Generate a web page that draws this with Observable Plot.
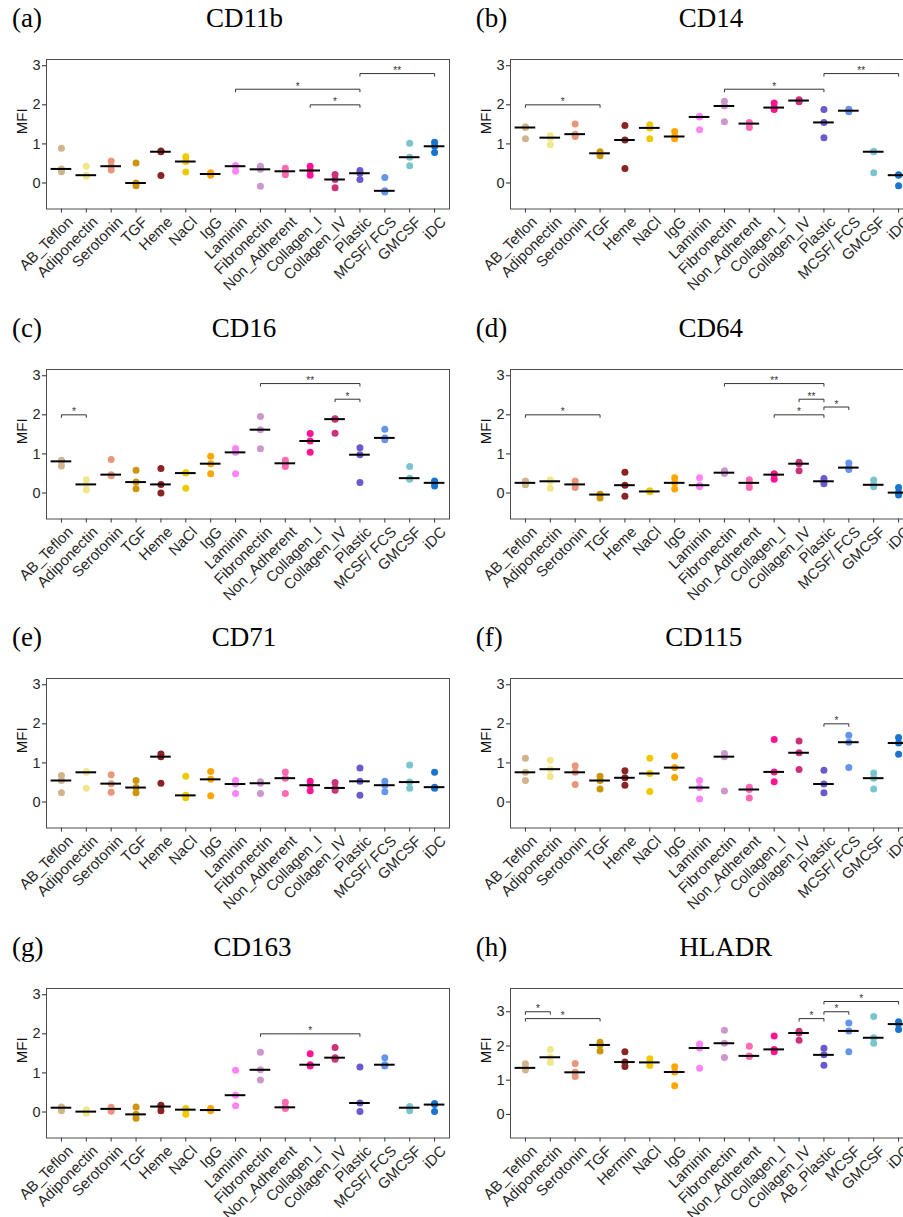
<!DOCTYPE html>
<html><head><meta charset="utf-8">
<script src="https://cdn.jsdelivr.net/npm/d3@7"></script>
<script src="https://cdn.jsdelivr.net/npm/@observablehq/plot@0.6"></script>
<style>
body{margin:0;background:#fff;}
#root{position:relative;width:903px;height:1217px;overflow:hidden;background:#fff;}
.panel{position:absolute;width:451px;height:310px;}
.tag,.ttl{position:absolute;top:5px;font-family:"Liberation Serif","Times New Roman",serif;font-size:27px;line-height:27px;color:#000;white-space:nowrap;}
.tag{left:12px;}
.ttl{transform:translateX(-50%);}
.svgwrap{position:absolute;left:0;top:40px;width:451px;}
</style></head>
<body><div id="root"></div>
<script>
const categories = ["AB_Teflon","Adiponectin","Serotonin","TGF","Heme","NaCl","IgG","Laminin","Fibronectin","Non_Adherent","Collagen_I","Collagen_IV","Plastic","MCSF/ FCS","GMCSF","iDC"];
const categoriesHLADR = ["AB_Teflon","Adiponectin","Serotonin","TGF","Hermin","NaCl","IgG","Laminin","Fibronectin","Non_Adherent","Collagen_I","Collagen_IV","AB_Plastic","MCSF","GMCSF","iDC"];
const colors = ["#D2B48C","#F0E68C","#E9967A","#CD950C","#8B2323","#EEC900","#FFA500","#FF83FA","#CD96CD","#FF69B4","#FF1493","#CD3278","#6A5ACD","#6495ED","#7AC5CD","#1874CD"];
const yTicks = [0,1,2,3];

const cd11b = [[0.89,0.36,0.29],[0.43,0.20,0.17],[0.56,0.43,0.33],[0.51,0.00,-0.07],[0.82,0.80,0.19],[0.67,0.55,0.28],[0.26,0.23,0.20],[0.45,0.43,0.30],[0.43,0.35,-0.08],[0.38,0.30,0.21],[0.43,0.32,0.20],[0.22,0.09,-0.12],[0.32,0.25,0.09],[0.14,-0.20,-0.23],[1.02,0.66,0.44],[1.04,0.94,0.78]];
const cd14 = [[1.44,1.42,1.13],[1.21,1.16,0.98],[1.51,1.25,1.19],[0.80,0.76,0.70],[1.47,1.10,0.37],[1.49,1.41,1.13],[1.32,1.19,1.13],[1.71,1.69,1.36],[2.09,1.97,1.57],[1.55,1.52,1.42],[2.05,1.93,1.88],[2.13,2.11,2.08],[1.88,1.55,1.16],[1.89,1.85,1.82],[0.81,0.80,0.26],[0.21,0.20,-0.07]];
const cd16 = [[0.84,0.81,0.69],[0.34,0.22,0.08],[0.86,0.47,0.44],[0.58,0.28,0.11],[0.63,0.22,0.00],[0.52,0.51,0.12],[0.94,0.75,0.49],[1.14,1.04,0.49],[1.96,1.62,1.13],[0.84,0.76,0.68],[1.52,1.33,1.04],[1.90,1.89,1.53],[1.16,0.98,0.27],[1.63,1.41,1.36],[0.68,0.38,0.35],[0.31,0.26,0.18]];
const cd64 = [[0.31,0.26,0.21],[0.33,0.30,0.12],[0.31,0.22,0.14],[-0.03,-0.04,-0.13],[0.53,0.20,-0.08],[0.06,0.04,0.03],[0.39,0.26,0.10],[0.39,0.20,0.16],[0.57,0.52,0.50],[0.34,0.26,0.14],[0.49,0.47,0.35],[0.79,0.75,0.57],[0.37,0.30,0.24],[0.77,0.65,0.60],[0.33,0.21,0.16],[0.14,0.01,-0.05]];
const cd71 = [[0.68,0.55,0.24],[0.78,0.76,0.35],[0.70,0.47,0.25],[0.55,0.37,0.24],[1.23,1.16,0.48],[0.66,0.17,0.11],[0.78,0.58,0.16],[0.55,0.46,0.22],[0.52,0.48,0.22],[0.77,0.61,0.22],[0.53,0.43,0.29],[0.50,0.36,0.30],[0.87,0.53,0.17],[0.53,0.43,0.26],[0.95,0.51,0.35],[0.76,0.38,0.35]];
const cd115 = [[1.12,0.76,0.55],[1.07,0.84,0.65],[0.93,0.76,0.45],[0.66,0.55,0.33],[0.80,0.62,0.43],[1.12,0.73,0.27],[1.18,0.88,0.63],[0.55,0.37,0.08],[1.24,1.16,0.28],[0.38,0.32,0.10],[1.60,0.77,0.52],[1.56,1.26,0.83],[0.81,0.46,0.24],[1.71,1.53,0.88],[0.74,0.61,0.33],[1.65,1.51,1.22]];
const cd163 = [[0.13,0.11,0.03],[0.06,0.01,-0.03],[0.12,0.08,0.02],[0.13,-0.06,-0.16],[0.17,0.14,0.03],[0.09,0.06,-0.06],[0.09,0.05,0.03],[1.07,0.43,0.16],[1.53,1.08,0.82],[0.25,0.12,0.09],[1.49,1.21,1.18],[1.65,1.39,1.35],[1.15,0.23,0.01],[1.39,1.21,1.18],[0.14,0.11,0.03],[0.22,0.19,0.01]];
const hladr = [[1.48,1.36,1.30],[1.90,1.67,1.52],[1.49,1.23,1.11],[2.11,2.03,1.85],[1.83,1.53,1.40],[1.63,1.52,1.43],[1.39,1.24,0.84],[2.06,1.94,1.35],[2.46,2.08,1.66],[1.99,1.71,1.69],[2.29,1.90,1.83],[2.43,2.38,2.17],[1.93,1.74,1.44],[2.67,2.44,1.83],[2.86,2.24,2.08],[2.71,2.64,2.48]];

const sigCD11b = [["Laminin","Plastic",2.4,"*"],["Collagen_I","Plastic",2.0,"*"],["Plastic","iDC",2.8,"**"]];
const sigCD14 = [["AB_Teflon","TGF",2.0,"*"],["Fibronectin","Plastic",2.4,"*"],["Plastic","iDC",2.8,"**"]];
const sigCD16 = [["AB_Teflon","Adiponectin",2.0,"*"],["Fibronectin","Plastic",2.8,"**"],["Collagen_IV","Plastic",2.4,"*"]];
const sigCD64 = [["AB_Teflon","TGF",2.0,"*"],["Fibronectin","Plastic",2.8,"**"],["Collagen_IV","Plastic",2.4,"**"],["Plastic","MCSF/ FCS",2.2,"*"],["Collagen_I","Plastic",2.0,"*"]];
const sigCD71 = [];
const sigCD115 = [["Plastic","MCSF/ FCS",2.0,"*"]];
const sigCD163 = [["Fibronectin","Plastic",2.0,"*"]];
const sigHLADR = [["AB_Teflon","Adiponectin",3.0,"*"],["AB_Teflon","TGF",2.8,"*"],["Collagen_IV","AB_Plastic",2.8,"*"],["AB_Plastic","MCSF",3.0,"*"],["AB_Plastic","iDC",3.3,"*"]];

const yStd = [-0.665, 3.16];
const yHLADR = [-0.69, 3.68];

const panels = [
  {tag:"(a)", title:"CD11b", values:cd11b, sig:sigCD11b, cats:categories, yDomain:yStd},
  {tag:"(b)", title:"CD14", values:cd14, sig:sigCD14, cats:categories, yDomain:yStd},
  {tag:"(c)", title:"CD16", values:cd16, sig:sigCD16, cats:categories, yDomain:yStd},
  {tag:"(d)", title:"CD64", values:cd64, sig:sigCD64, cats:categories, yDomain:yStd},
  {tag:"(e)", title:"CD71", values:cd71, sig:sigCD71, cats:categories, yDomain:yStd},
  {tag:"(f)", title:"CD115", values:cd115, sig:sigCD115, cats:categories, yDomain:yStd},
  {tag:"(g)", title:"CD163", values:cd163, sig:sigCD163, cats:categories, yDomain:yStd},
  {tag:"(h)", title:"HLADR", values:hladr, sig:sigHLADR, cats:categoriesHLADR, yDomain:yHLADR}
];
const layout = [
  {left:0, top:0, titleX:244.5},
  {left:463.7, top:0, titleX:247.3},
  {left:0, top:309.7, titleX:244},
  {left:463.7, top:309.7, titleX:247},
  {left:0, top:619.4, titleX:244},
  {left:463.7, top:619.4, titleX:240},
  {left:0, top:929.1, titleX:252.5},
  {left:463.7, top:929.1, titleX:262}
];

function makePlot(p) {
  const n = p.cats.length;
  const rows = p.values.flatMap((vs, i) => vs.map(v => ({i, v, col: colors[i]})));
  const meds = p.values.map((vs, i) => ({i, m: d3.median(vs)}));
  const tk = 0.017 * (p.yDomain[1] - p.yDomain[0]);
  const br = p.sig.flatMap((s, k) => {
    const a = p.cats.indexOf(s[0]), b = p.cats.indexOf(s[1]);
    return [{k, x:a, y:s[2]-tk}, {k, x:a, y:s[2]}, {k, x:b, y:s[2]}, {k, x:b, y:s[2]-tk}];
  });
  const stars = p.sig.map(s => ({x:(p.cats.indexOf(s[0]) + p.cats.indexOf(s[1]))/2, y:s[2], t:s[3]}));
  const idx = d3.range(n);
  return Plot.plot({
    width: 451, height: 270,
    marginLeft: 46, marginRight: 2, marginTop: 19, marginBottom: 101.5,
    style: {fontFamily: "'Liberation Sans', Arial, sans-serif", background: "transparent"},
    x: {domain: [-0.6, n - 1 + 0.6]},
    y: {domain: p.yDomain},
    color: {type: "identity"},
    marks: [
      Plot.axisY({ticks: yTicks, tickSize: 4, tickPadding: 2, fontSize: 14.5, tickFormat: d => String(d), label: null, color: "#262626"}),
      Plot.axisX({ticks: idx, tickSize: 4, tickFormat: () => "", label: null, color: "#333"}),
      Plot.text(idx, {x: d => d, frameAnchor: "bottom", text: i => p.cats[i], rotate: -45, textAnchor: "end", lineAnchor: "middle", dx: 9, dy: 10.5, fontSize: 15, fill: "#262626"}),
      Plot.text(["MFI"], {frameAnchor: "left", rotate: -90, dx: -24, fontSize: 15, fill: "#111"}),
      Plot.line(br, {x: "x", y: "y", z: "k", stroke: "#333", strokeWidth: 1}),
      Plot.text(stars, {x: "x", y: "y", text: "t", fontSize: 10, lineAnchor: "bottom", dy: 0.5, fill: "#333"}),
      Plot.dot(rows, {x: "i", y: "v", fill: "col", r: 3.5}),
      Plot.ruleY(meds, {y: "m", x1: d => d.i - 0.415, x2: d => d.i + 0.415, stroke: "#000", strokeWidth: 2}),
      Plot.frame({stroke: "#4d4d4d"})
    ]
  });
}

const root = document.getElementById("root");
panels.forEach((p, k) => {
  const L = layout[k];
  const div = document.createElement("div");
  div.className = "panel";
  div.style.left = L.left + "px";
  div.style.top = L.top + "px";
  const tag = document.createElement("div");
  tag.className = "tag"; tag.textContent = p.tag;
  const ttl = document.createElement("div");
  ttl.className = "ttl"; ttl.textContent = p.title; ttl.style.left = L.titleX + "px";
  const wrap = document.createElement("div");
  wrap.className = "svgwrap";
  wrap.appendChild(makePlot(p));
  div.appendChild(tag); div.appendChild(ttl); div.appendChild(wrap);
  root.appendChild(div);
});
</script>
</body></html>
